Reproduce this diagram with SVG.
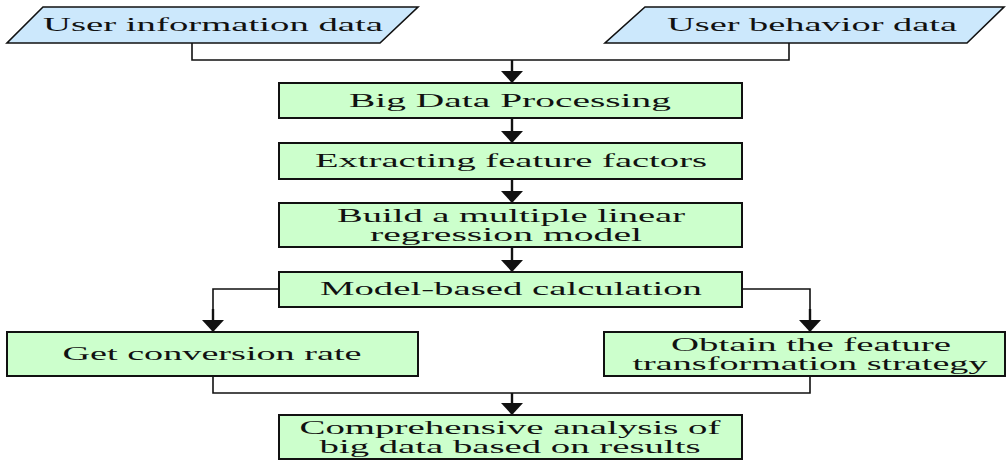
<svg xmlns="http://www.w3.org/2000/svg" width="1008" height="460" viewBox="0 0 1008 460">
  <style>
    .box { fill: #ccffcc; stroke: #111; stroke-width: 2; }
    .data { fill: #cce8fc; stroke: #111; stroke-width: 1.6; }
    .lbl { font-family: "Liberation Serif", "Times New Roman", serif; font-size: 18px; fill: #111; text-anchor: middle; }
    .wire { fill: none; stroke: #111; stroke-width: 1.6; }
    .shaft { fill: none; stroke: #111; stroke-width: 2.4; }
  </style>
  <defs>
    <marker id="ah" markerUnits="userSpaceOnUse" markerWidth="12" markerHeight="22" viewBox="0 0 12 22" refX="12" refY="11" orient="auto">
      <path d="M0,0 L12,11 L0,22 z" fill="#111"/>
    </marker>
  </defs>
  <rect width="1008" height="460" fill="#ffffff"/>

  <g id="connectors">
    <polyline class="wire" points="192,43 192,60 512,60"/>
    <polyline class="wire" points="789,43 789,60 512,60"/>
    <line class="shaft" x1="512" y1="60" x2="512" y2="83" marker-end="url(#ah)"/>
    <line class="shaft" x1="512" y1="118" x2="512" y2="143" marker-end="url(#ah)"/>
    <line class="shaft" x1="512" y1="179" x2="512" y2="203" marker-end="url(#ah)"/>
    <line class="shaft" x1="512" y1="247" x2="512" y2="272" marker-end="url(#ah)"/>
    <polyline class="wire" points="279,289 213,289 213,310"/>
    <line class="shaft" x1="213" y1="309" x2="213" y2="332" marker-end="url(#ah)"/>
    <polyline class="wire" points="742,289 810,289 810,310"/>
    <line class="shaft" x1="810" y1="309" x2="810" y2="332" marker-end="url(#ah)"/>
    <polyline class="wire" points="213,376 213,393 512,393"/>
    <polyline class="wire" points="810,376 810,393 512,393"/>
    <line class="shaft" x1="512" y1="393" x2="512" y2="415" marker-end="url(#ah)"/>
  </g>

  <g id="user-info">
    <polygon class="data" points="43,7 418,7 380,43 7,43"/>
    <text class="lbl" x="213" y="31" textLength="340" lengthAdjust="spacingAndGlyphs">User information data</text>
  </g>
  <g id="user-behavior">
    <polygon class="data" points="645,7 1004,7 967,43 605,43"/>
    <text class="lbl" x="812" y="31" textLength="290" lengthAdjust="spacingAndGlyphs">User behavior data</text>
  </g>
  <g id="big-data">
    <rect class="box" x="279" y="83" width="463" height="35"/>
    <text class="lbl" x="510" y="107" textLength="322" lengthAdjust="spacingAndGlyphs">Big Data Processing</text>
  </g>
  <g id="extract">
    <rect class="box" x="279" y="143" width="463" height="36"/>
    <text class="lbl" x="511" y="167" textLength="392" lengthAdjust="spacingAndGlyphs">Extracting feature factors</text>
  </g>
  <g id="build">
    <rect class="box" x="279" y="203" width="463" height="44"/>
    <text class="lbl" x="511" y="222" textLength="348" lengthAdjust="spacingAndGlyphs">Build a multiple linear</text>
    <text class="lbl" x="506" y="241" textLength="272" lengthAdjust="spacingAndGlyphs">regression model</text>
  </g>
  <g id="model">
    <rect class="box" x="279" y="272" width="463" height="35"/>
    <text class="lbl" x="511" y="295" textLength="382" lengthAdjust="spacingAndGlyphs">Model-based calculation</text>
  </g>
  <g id="conversion">
    <rect class="box" x="7" y="332" width="411" height="44"/>
    <text class="lbl" x="212" y="360" textLength="299" lengthAdjust="spacingAndGlyphs">Get conversion rate</text>
  </g>
  <g id="strategy">
    <rect class="box" x="604" y="332" width="401" height="44"/>
    <text class="lbl" x="811" y="351" textLength="280" lengthAdjust="spacingAndGlyphs">Obtain the feature</text>
    <text class="lbl" x="810" y="370" textLength="355" lengthAdjust="spacingAndGlyphs">transformation strategy</text>
  </g>
  <g id="analysis">
    <rect class="box" x="279" y="415" width="463" height="44"/>
    <text class="lbl" x="510" y="434" textLength="421" lengthAdjust="spacingAndGlyphs">Comprehensive analysis of</text>
    <text class="lbl" x="510" y="453" textLength="381" lengthAdjust="spacingAndGlyphs">big data based on results</text>
  </g>
</svg>
